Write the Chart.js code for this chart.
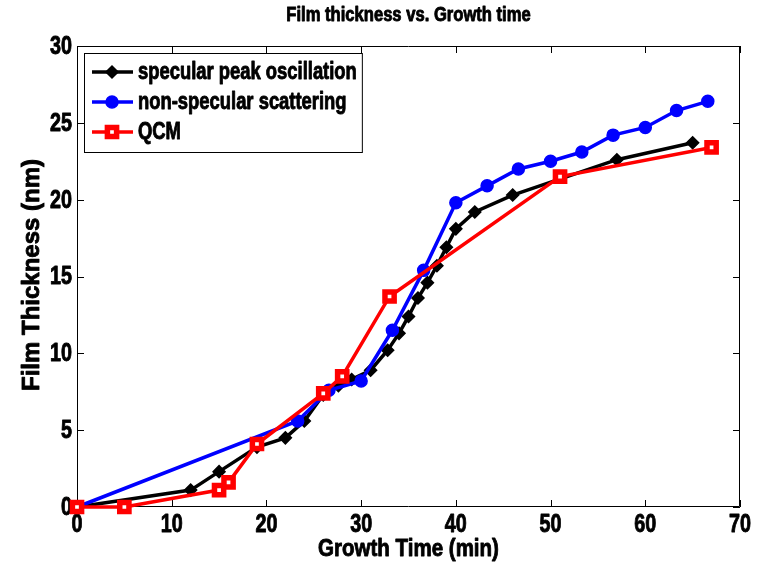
<!DOCTYPE html>
<html>
<head>
<meta charset="utf-8">
<script src="https://cdn.jsdelivr.net/npm/chart.js@4.4.1/dist/chart.umd.min.js"></script>
<style>
  html, body { margin: 0; padding: 0; background: #fff; }
  #wrap { width: 765px; height: 563px; position: relative; }
</style>
</head>
<body>
<div id="wrap"><canvas id="c" width="765" height="563"></canvas></div>
<script>
// Growth time (min) and film thickness (nm) for each measurement method
const specTime = [0, 12, 15, 19, 22, 24, 26, 27.6, 29, 31, 32.8, 34, 35, 36, 37, 38, 39, 40, 42, 46, 57, 65];
const specThick = [0, 1.1, 2.3, 3.9, 4.5, 5.6, 7.3, 7.9, 8.3, 8.9, 10.2, 11.3, 12.4, 13.6, 14.6, 15.7, 16.9, 18.1, 19.2, 20.3, 22.6, 23.7];

const nonSpecTime = [0, 23.3, 26.6, 30, 33.3, 36.6, 40, 43.3, 46.6, 50, 53.3, 56.6, 60, 63.3, 66.6];
const nonSpecThick = [0, 5.6, 7.6, 8.2, 11.5, 15.4, 19.8, 20.9, 22.0, 22.5, 23.1, 24.2, 24.7, 25.8, 26.4];

const qcmTime = [0, 5, 15, 16, 19, 26, 28, 33, 51, 67];
const qcmThick = [0, 0, 1.1, 1.6, 4.1, 7.4, 8.5, 13.7, 21.5, 23.4];

const xTicks = [0, 10, 20, 30, 40, 50, 60, 70];
const yTicks = [0, 5, 10, 15, 20, 25, 30];

const seriesLabels = ['specular peak oscillation', 'non-specular scattering', 'QCM'];
const titleText = 'Film thickness vs. Growth time';
const xTitle = 'Growth Time (min)';
const yTitle = 'Film Thickness (nm)';

const FONT = "'Liberation Sans', Arial, Helvetica, sans-serif";

const toPoints = (xs, ys) => xs.map((x, i) => ({ x: x, y: ys[i] }));

// Heavy text squeezed horizontally to get a narrow bold face
function narrowText(ctx, text, x, y, size, squeeze, align) {
  ctx.save();
  ctx.font = 'bold ' + size + 'px ' + FONT;
  ctx.textAlign = align;
  ctx.textBaseline = 'middle';
  ctx.fillStyle = '#000';
  ctx.strokeStyle = '#000';
  ctx.lineWidth = 0.9;
  ctx.lineJoin = 'round';
  ctx.translate(x, y);
  ctx.scale(squeeze, 1);
  ctx.fillText(text, 0, 0);
  ctx.strokeText(text, 0, 0);
  ctx.restore();
}

// Box outline, inward tick marks on all four sides, tick labels, title and axis titles
const frame = {
  id: 'frame',
  beforeDatasetsDraw(chart) {
    const { ctx, chartArea: a, scales: { x, y } } = chart;
    ctx.save();
    ctx.strokeStyle = '#000';
    ctx.lineWidth = 1;
    ctx.beginPath();
    ctx.rect(a.left + 0.5, a.top + 0.5, a.right - a.left - 1, a.bottom - a.top - 1);
    ctx.stroke();
    const L = 7;
    ctx.beginPath();
    xTicks.forEach(v => {
      const px = Math.round(x.getPixelForValue(v)) + 0.5;
      ctx.moveTo(px, a.bottom); ctx.lineTo(px, a.bottom - L);
      ctx.moveTo(px, a.top); ctx.lineTo(px, a.top + L);
    });
    yTicks.forEach(v => {
      const py = Math.round(y.getPixelForValue(v)) + 0.5;
      ctx.moveTo(a.left, py); ctx.lineTo(a.left + L, py);
      ctx.moveTo(a.right, py); ctx.lineTo(a.right - L, py);
    });
    ctx.stroke();
    xTicks.forEach(v => narrowText(ctx, String(v), x.getPixelForValue(v), a.bottom + 18, 25, 0.79, 'center'));
    yTicks.forEach(v => narrowText(ctx, String(v), a.left - 5, y.getPixelForValue(v) + 1, 25, 0.79, 'right'));
    ctx.restore();
  },
  afterDraw(chart) {
    const { ctx, chartArea: a } = chart;
    narrowText(ctx, titleText, (a.left + a.right) / 2, 15, 20, 0.83, 'center');
    narrowText(ctx, xTitle, (a.left + a.right) / 2, 549, 24, 0.855, 'center');
    ctx.save();
    ctx.translate(32, 275);
    ctx.rotate(-Math.PI / 2);
    narrowText(ctx, yTitle, 0, 0, 24, 1, 'center');
    ctx.restore();

    // Legend box in the upper-left corner of the plot
    const sets = chart.data.datasets;
    const size = 23, squeeze = 0.8;
    ctx.save();
    ctx.font = 'bold ' + size + 'px ' + FONT;
    let maxW = 0;
    seriesLabels.forEach(t => { maxW = Math.max(maxW, ctx.measureText(t).width * squeeze); });
    const bx = a.left + 7, by = a.top + 7;
    const textX = bx + 54;
    const bw = textX - bx + maxW + 5, bh = 99;
    ctx.fillStyle = '#fff';
    ctx.fillRect(bx, by, bw, bh);
    ctx.strokeStyle = '#000';
    ctx.lineWidth = 1;
    ctx.strokeRect(bx + 0.5, by + 0.5, bw, bh);
    seriesLabels.forEach((label, i) => {
      const d = sets.find(s => s.label === label);
      const cy = by + 19 + i * 30;
      ctx.strokeStyle = d.borderColor;
      ctx.lineWidth = 3.5;
      ctx.beginPath();
      ctx.moveTo(bx + 8, cy); ctx.lineTo(bx + 49, cy);
      ctx.stroke();
      ctx.fillStyle = d.pointBackgroundColor;
      ctx.strokeStyle = d.pointBorderColor;
      ctx.lineWidth = d.pointBorderWidth;
      Chart.helpers.drawPoint(ctx, {
        pointStyle: d.pointStyle, radius: d.pointRadius, borderWidth: d.pointBorderWidth, rotation: 0
      }, bx + 28, cy);
      narrowText(ctx, label, textX, cy + 1, size, squeeze, 'left');
    });
    ctx.restore();
  }
};

const common = { borderWidth: 3.5, fill: false, tension: 0, clip: false };

new Chart(document.getElementById('c'), {
  type: 'line',
  data: {
    datasets: [
      Object.assign({}, common, {
        label: seriesLabels[0], data: toPoints(specTime, specThick), order: 3,
        borderColor: '#000000', backgroundColor: '#000000', pointBackgroundColor: '#000000',
        pointBorderColor: '#000000', pointStyle: 'rectRot', pointRadius: 6, pointBorderWidth: 1.5
      }),
      Object.assign({}, common, {
        label: seriesLabels[1], data: toPoints(nonSpecTime, nonSpecThick), order: 2,
        borderColor: '#0000ff', backgroundColor: '#0000ff', pointBackgroundColor: '#0000ff',
        pointBorderColor: '#0000ff', pointStyle: 'circle', pointRadius: 6, pointBorderWidth: 1.5
      }),
      Object.assign({}, common, {
        label: seriesLabels[2], data: toPoints(qcmTime, qcmThick), order: 1,
        borderColor: '#ff0000', backgroundColor: '#ff0000', pointBackgroundColor: '#ffffff',
        pointBorderColor: '#ff0000', pointStyle: 'rect', pointRadius: 6.5, pointBorderWidth: 5.5
      })
    ]
  },
  options: {
    responsive: false,
    animation: false,
    events: [],
    layout: { padding: { top: 46, right: 25, left: 0, bottom: 0 } },
    plugins: { legend: { display: false }, title: { display: false }, tooltip: { enabled: false } },
    scales: {
      x: {
        type: 'linear', min: 0, max: 70,
        afterFit(s) { s.height = 56; },
        afterBuildTicks(s) { s.ticks = xTicks.map(v => ({ value: v })); },
        grid: { display: false, drawTicks: false },
        border: { display: false },
        ticks: { display: false }
      },
      y: {
        type: 'linear', min: 0, max: 30,
        afterFit(s) { s.width = 77; },
        afterBuildTicks(s) { s.ticks = yTicks.map(v => ({ value: v })); },
        grid: { display: false, drawTicks: false },
        border: { display: false },
        ticks: { display: false }
      }
    }
  },
  plugins: [frame]
});
</script>
</body>
</html>
